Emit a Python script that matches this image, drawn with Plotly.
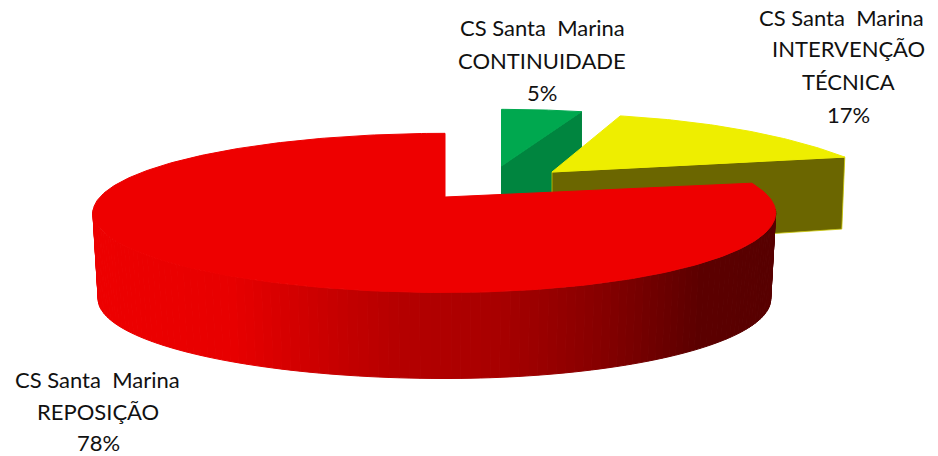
import numpy as np
import plotly.graph_objects as go

categories = ["CONTINUIDADE", "INTERVENÇÃO<br>TÉCNICA", "REPOSIÇÃO"]
values = [5, 17, 78]
unit = "CS Santa\u00a0\u00a0Marina"

W, H = 938, 456
FONT = "Lato, Carlito, Calibri, sans-serif"

fractions = np.array(values) / sum(values)
edges = np.concatenate([[0], np.cumsum(fractions)]) * 2 * np.pi


def project(t, cx, cy, rl, rr, ry, k=0.2):
    X, Y = np.sin(t), np.cos(t)
    d = 1 + k * Y
    r = np.where(X < 0, rl, rr)
    return cx + r * X / d, cy - ry * Y / d


def poly(fig, x, y, color, line=None, lw=1.0):
    fig.add_trace(go.Scatter(x=list(x) + [x[0]], y=list(y) + [y[0]], mode="lines", fill="toself",
                             fillcolor=color, line=dict(color=line or color, width=lw),
                             hoverinfo="skip", showlegend=False))


fig = go.Figure()

# green slice
g = dict(cx=501.5, cy=166, rl=308, rr=308, ry=68)
t = np.linspace(edges[0], edges[1], 30)
gx, gy = project(t, **g)
dep = 72
poly(fig, [g["cx"], gx[-1], gx[-1], g["cx"]], [g["cy"], gy[-1], gy[-1] + dep, g["cy"] + dep], "#00853f")
poly(fig, [g["cx"], *gx], [g["cy"], *gy], "#00a84f")

# yellow slice
y_ = dict(cx=552, cy=172, rl=326, rr=326, ry=87, k=0.5)
t = np.linspace(edges[1], edges[2], 60)
yx, yy = project(t, **y_)
poly(fig, [y_["cx"], yx[-1], yx[-1] - 3, y_["cx"]], [y_["cy"], yy[-1], yy[-1] + dep, y_["cy"] + dep + 4],
     "#6b6600", line="#c8c400", lw=0.8)
poly(fig, [y_["cx"], *yx], [y_["cy"], *yy], "#eeee00")

# red slice
r = dict(cx=445, cy=197, rl=345, rr=324, ry=76.4)
depth = 86
grad_x = [90, 230, 330, 400, 500, 600, 700, 780]
grad_r = [238, 232, 200, 181, 168, 135, 92, 88]
t_front = np.linspace(edges[2], edges[3], 400)
mask = np.cos(t_front) < -0.15
ts = t_front[mask]
n = len(ts)
for i in range(0, n - 2, 2):
    seg = ts[i:i + 3]
    ax, ay = project(seg, **r)
    bx = r["cx"] + (ax - r["cx"]) * 0.985
    by = ay + depth
    shade = int(np.interp(ax.mean(), grad_x, grad_r))
    poly(fig, list(ax) + list(bx[::-1]), list(ay) + list(by[::-1]), f"rgb({shade},0,0)")

t = np.linspace(edges[2], edges[3], 300)
rx_, ry_ = project(t, **r)
poly(fig, [r["cx"], *rx_], [r["cy"], *ry_], "#ee0000")

# labels
blocks = [
    (542, 542, [27, 60, 92], 0),
    (841, 848, [17, 48, 81, 114], 1),
    (97, 98, [379, 411, 442], 2),
]
annotations = []
for x_unit, xc, ys, idx in blocks:
    lines = [unit] + categories[idx].split("<br>") + [f"{values[idx]}%"]
    for j, (yc, text) in enumerate(zip(ys, lines)):
        annotations.append(dict(x=x_unit if j == 0 else xc, y=yc, xref="x", yref="y", text=text, showarrow=False,
                                xanchor="center", yanchor="middle",
                                font=dict(family=FONT, size=22, color="#111111")))

fig.update_layout(
    width=W, height=H, margin=dict(l=0, r=0, t=0, b=0),
    paper_bgcolor="white", plot_bgcolor="white", showlegend=False,
    xaxis=dict(range=[0, W], visible=False, fixedrange=True),
    yaxis=dict(range=[H, 0], visible=False, fixedrange=True),
    annotations=annotations,
)
fig.write_html("out.html", config={"displayModeBar": False},
               post_script="document.body.style.margin='0';document.body.style.overflow='hidden';")
